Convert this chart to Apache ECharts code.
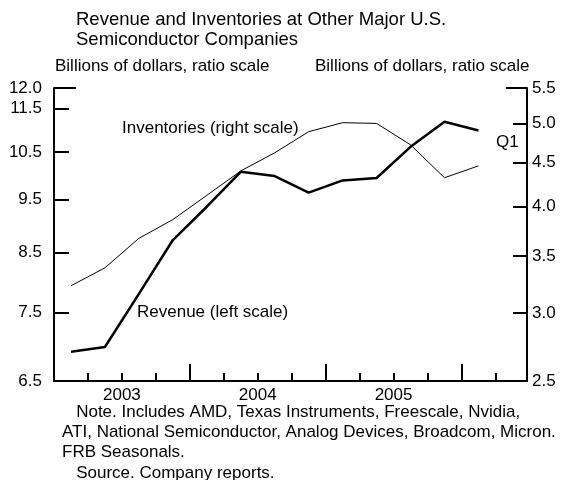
<!DOCTYPE html>
<html>
<head>
<meta charset="utf-8">
<script src="https://cdn.jsdelivr.net/npm/echarts@6/dist/echarts.min.js"></script>
<style>
  html, body { margin: 0; padding: 0; background: #fff; }
  #chart { width: 567px; height: 480px; }
</style>
</head>
<body>
<div id="chart"></div>
<script>
// quarters 2003:Q1 .. 2006:Q1, plotted at slot centres
var quarters = ['2003Q1','2003Q2','2003Q3','2003Q4','2004Q1','2004Q2','2004Q3','2004Q4',
                '2005Q1','2005Q2','2005Q3','2005Q4','2006Q1'];
// billions of dollars
var revenue = [6.91, 6.98, 7.80, 8.73, 9.36, 10.07, 9.98, 9.64, 9.89, 9.94, 10.61, 11.18, 10.98];
var inventories = [3.23, 3.39, 3.67, 3.86, 4.12, 4.40, 4.62, 4.89, 5.01, 5.00, 4.72, 4.32, 4.46];

var leftTicks = [6.5, 7.5, 8.5, 9.5, 10.5, 11.5, 12.0];
var rightTicks = [2.5, 3.0, 3.5, 4.0, 4.5, 5.0, 5.5];
// x positions in quarter slots: year labels sit mid-year, long ticks at year ends
var yearLabelPos = [2, 6, 10];
var yearLabels = ['2003', '2004', '2005'];
var quarterTickPos = [1, 2, 3, 5, 6, 7, 9, 10, 11, 13];
var yearTickPos = [4, 8, 12];

var FONT = 'Liberation Sans, Arial, sans-serif';

function pairs(vals) {
    var res = [];
    for (var i = 0; i < vals.length; i++) {
        res.push([i + 0.5, vals[i]]);
    }
    return res;
}

var myChart = echarts.init(document.getElementById('chart'));

function xAx(extra) {
    return Object.assign({
        type: 'value', position: 'bottom', min: 0, max: 13.93,
        splitLine: { show: false },
        axisLine: { show: false, onZero: false },
        axisTick: { show: false },
        axisLabel: { show: false }
    }, extra);
}
function yAx(side, lo, hi, extra) {
    return Object.assign({
        type: 'log', position: side, min: lo, max: hi,
        splitLine: { show: false },
        axisLine: { show: false, onZero: false },
        axisTick: { show: false },
        axisLabel: { show: false }
    }, extra);
}
function ticks(vals, len) {
    return { show: true, inside: true, length: len, customValues: vals, lineStyle: { color: '#000', width: 2 } };
}

var option = {
    animation: false,
    backgroundColor: '#fff',
    textStyle: { fontFamily: FONT, color: '#000' },
    grid: { left: 54, right: 40, top: 88, bottom: 99 },
    xAxis: [
        xAx({
            axisLine: { show: true, onZero: false, lineStyle: { color: '#000', width: 2 } },
            axisLabel: {
                show: true, customValues: yearLabelPos, color: '#000', fontSize: 17, fontFamily: FONT, margin: 6,
                formatter: function (v) { return yearLabels[yearLabelPos.indexOf(Math.round(v))] || ''; }
            }
        }),
        xAx({ axisTick: ticks(quarterTickPos, 8) }),
        xAx({ axisTick: ticks(yearTickPos, 17) })
    ],
    yAxis: [
        yAx('left', 6.5, 12, {
            axisLine: { show: true, onZero: false, lineStyle: { color: '#000', width: 2 } },
            axisLabel: {
                show: true, customValues: leftTicks, color: '#000', fontSize: 17, fontFamily: FONT, margin: 12,
                formatter: function (v) { return v.toFixed(1); }
            }
        }),
        yAx('right', 2.5, 5.5, {
            axisLine: { show: true, onZero: false, lineStyle: { color: '#000', width: 2 } },
            axisLabel: {
                show: true, customValues: rightTicks, color: '#000', fontSize: 17, fontFamily: FONT, margin: 5,
                formatter: function (v) { return v.toFixed(1); }
            }
        }),
        yAx('left', 6.5, 12, { axisTick: ticks(leftTicks.slice(0, 6), 15) }),
        yAx('right', 2.5, 5.5, { axisTick: ticks(rightTicks.slice(0, 6), 14) }),
        // longer cap ticks at the top of both scales
        yAx('left', 6.5, 12, { axisTick: ticks([12], 22) }),
        yAx('right', 2.5, 5.5, { axisTick: ticks([5.5], 21) })
    ],
    series: [
        {
            name: 'Revenue', type: 'line', xAxisIndex: 0, yAxisIndex: 0,
            data: pairs(revenue), symbol: 'none',
            lineStyle: { color: '#000', width: 2.5 }
        },
        {
            name: 'Inventories', type: 'line', xAxisIndex: 0, yAxisIndex: 1,
            data: pairs(inventories), symbol: 'none',
            lineStyle: { color: '#000', width: 1 }
        }
    ],
    graphic: [
        { type: 'text', left: 76, top: 10, style: { text: 'Revenue and Inventories at Other Major U.S.\nSemiconductor Companies', fill: '#000', font: '18.5px ' + FONT, lineHeight: 20 } },
        { type: 'text', left: 55, top: 58, style: { text: 'Billions of dollars, ratio scale', fill: '#000', font: '17px ' + FONT } },
        { type: 'text', left: 315, top: 58, style: { text: 'Billions of dollars, ratio scale', fill: '#000', font: '17px ' + FONT } },
        { type: 'text', left: 122, top: 120, style: { text: 'Inventories (right scale)', fill: '#000', font: '17px ' + FONT } },
        { type: 'text', left: 137, top: 304, style: { text: 'Revenue (left scale)', fill: '#000', font: '17px ' + FONT } },
        { type: 'text', left: 496, top: 134, style: { text: 'Q1', fill: '#000', font: '17px ' + FONT } },
        { type: 'text', left: 62, top: 402, style: { text: '   Note. Includes AMD, Texas Instruments, Freescale, Nvidia,\nATI, National Semiconductor, Analog Devices, Broadcom, Micron.\nFRB Seasonals.\n   Source. Company reports.', fill: '#000', font: '17px ' + FONT, lineHeight: 20.3 } }
    ]
};

myChart.setOption(option);
</script>
</body>
</html>
